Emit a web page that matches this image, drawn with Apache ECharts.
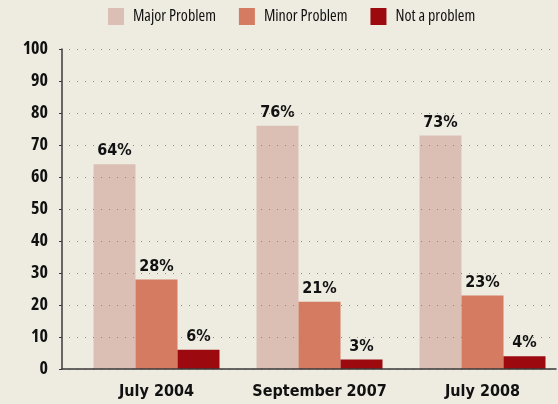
<!DOCTYPE html>
<html>
<head>
<meta charset="utf-8">
<script src="https://cdn.jsdelivr.net/npm/echarts@6/dist/echarts.min.js"></script>
<style>
html,body{margin:0;padding:0;background:#eeebe1;}
#chart{width:558px;height:404px;}
</style>
</head>
<body>
<div id="chart"></div>
<script>
var categories = ['July 2004', 'September 2007', 'July 2008'];
var seriesNames = ['Major Problem', 'Minor Problem', 'Not a problem'];
var majorProblem = [64, 76, 73];
var minorProblem = [28, 21, 23];
var notAProblem = [6, 3, 4];
var yTicks = [0, 10, 20, 30, 40, 50, 60, 70, 80, 90, 100];

var BG = '#eeebe1';
var COLORS = ['#dbbfb4', '#d47b62', '#9c0a10'];
var BOLD = '"DejaVu Sans Condensed", "DejaVu Sans", sans-serif';
var OPEN = '"Open Sans", sans-serif';

var chart = echarts.init(document.getElementById('chart'), null, {renderer: 'canvas'});

function barSeries(name, data, color) {
  return {
    name: name,
    type: 'bar',
    xAxisIndex: 0,
    yAxisIndex: 0,
    data: data,
    barWidth: 42,
    barGap: '0%',
    itemStyle: {color: color},
    z: 3,
    label: {
      show: true,
      position: 'top',
      distance: 4,
      formatter: '{c}%',
      color: '#111',
      fontFamily: BOLD,
      fontWeight: 'bold',
      fontSize: 16,
      backgroundColor: BG,
      padding: [2, 2, 1, 2]
    }
  };
}

var option = {
  backgroundColor: BG,
  animation: false,
  legend: {
    left: 108,
    top: 8,
    padding: 0,
    icon: 'rect',
    itemWidth: 16,
    itemHeight: 17,
    itemGap: 23,
    data: seriesNames,
    textStyle: {
      fontFamily: OPEN,
      fontWeight: '500 condensed',
      fontSize: 16,
      color: '#111',
      padding: [0, 0, 0, 4]
    }
  },
  grid: [
    {left: 75, right: -6, top: 49, bottom: 35, outerBoundsMode: 'none', containLabel: false},
    {left: 62, right: 2, top: 49, bottom: 35, outerBoundsMode: 'none', containLabel: false}
  ],
  xAxis: [
    {
      type: 'category',
      gridIndex: 0,
      data: categories,
      axisLine: {show: false},
      axisTick: {show: false},
      axisLabel: {
        interval: 0,
        margin: 15,
        color: '#111',
        fontFamily: BOLD,
        fontWeight: 'bold',
        fontSize: 16
      }
    },
    {
      type: 'value',
      gridIndex: 1,
      min: 0,
      max: 1,
      z: 10,
      axisLine: {show: true, lineStyle: {color: '#3a3a3a', width: 1.5}},
      axisTick: {show: false},
      axisLabel: {show: false},
      splitLine: {show: false}
    }
  ],
  yAxis: [
    {
      type: 'value',
      gridIndex: 0,
      min: 0,
      max: 100,
      show: false,
      splitLine: {show: false}
    },
    {
      type: 'value',
      gridIndex: 1,
      min: yTicks[0],
      max: yTicks[yTicks.length - 1],
      interval: yTicks[1] - yTicks[0],
      z: 10,
      axisLine: {show: true, lineStyle: {color: '#3a3a3a', width: 1.5}},
      axisTick: {show: true, length: 3, lineStyle: {color: '#3a3a3a', width: 1}},
      axisLabel: {
        margin: 14,
        color: '#111',
        fontFamily: OPEN,
        fontWeight: 'bold condensed',
        fontSize: 18
      },
      splitLine: {
        show: true,
        lineStyle: {color: '#8a8a80', width: 1, type: [1, 7], dashOffset: -7}
      }
    }
  ],
  series: [
    barSeries(seriesNames[0], majorProblem, COLORS[0]),
    barSeries(seriesNames[1], minorProblem, COLORS[1]),
    barSeries(seriesNames[2], notAProblem, COLORS[2])
  ]
};
chart.setOption(option);
</script>
</body>
</html>
